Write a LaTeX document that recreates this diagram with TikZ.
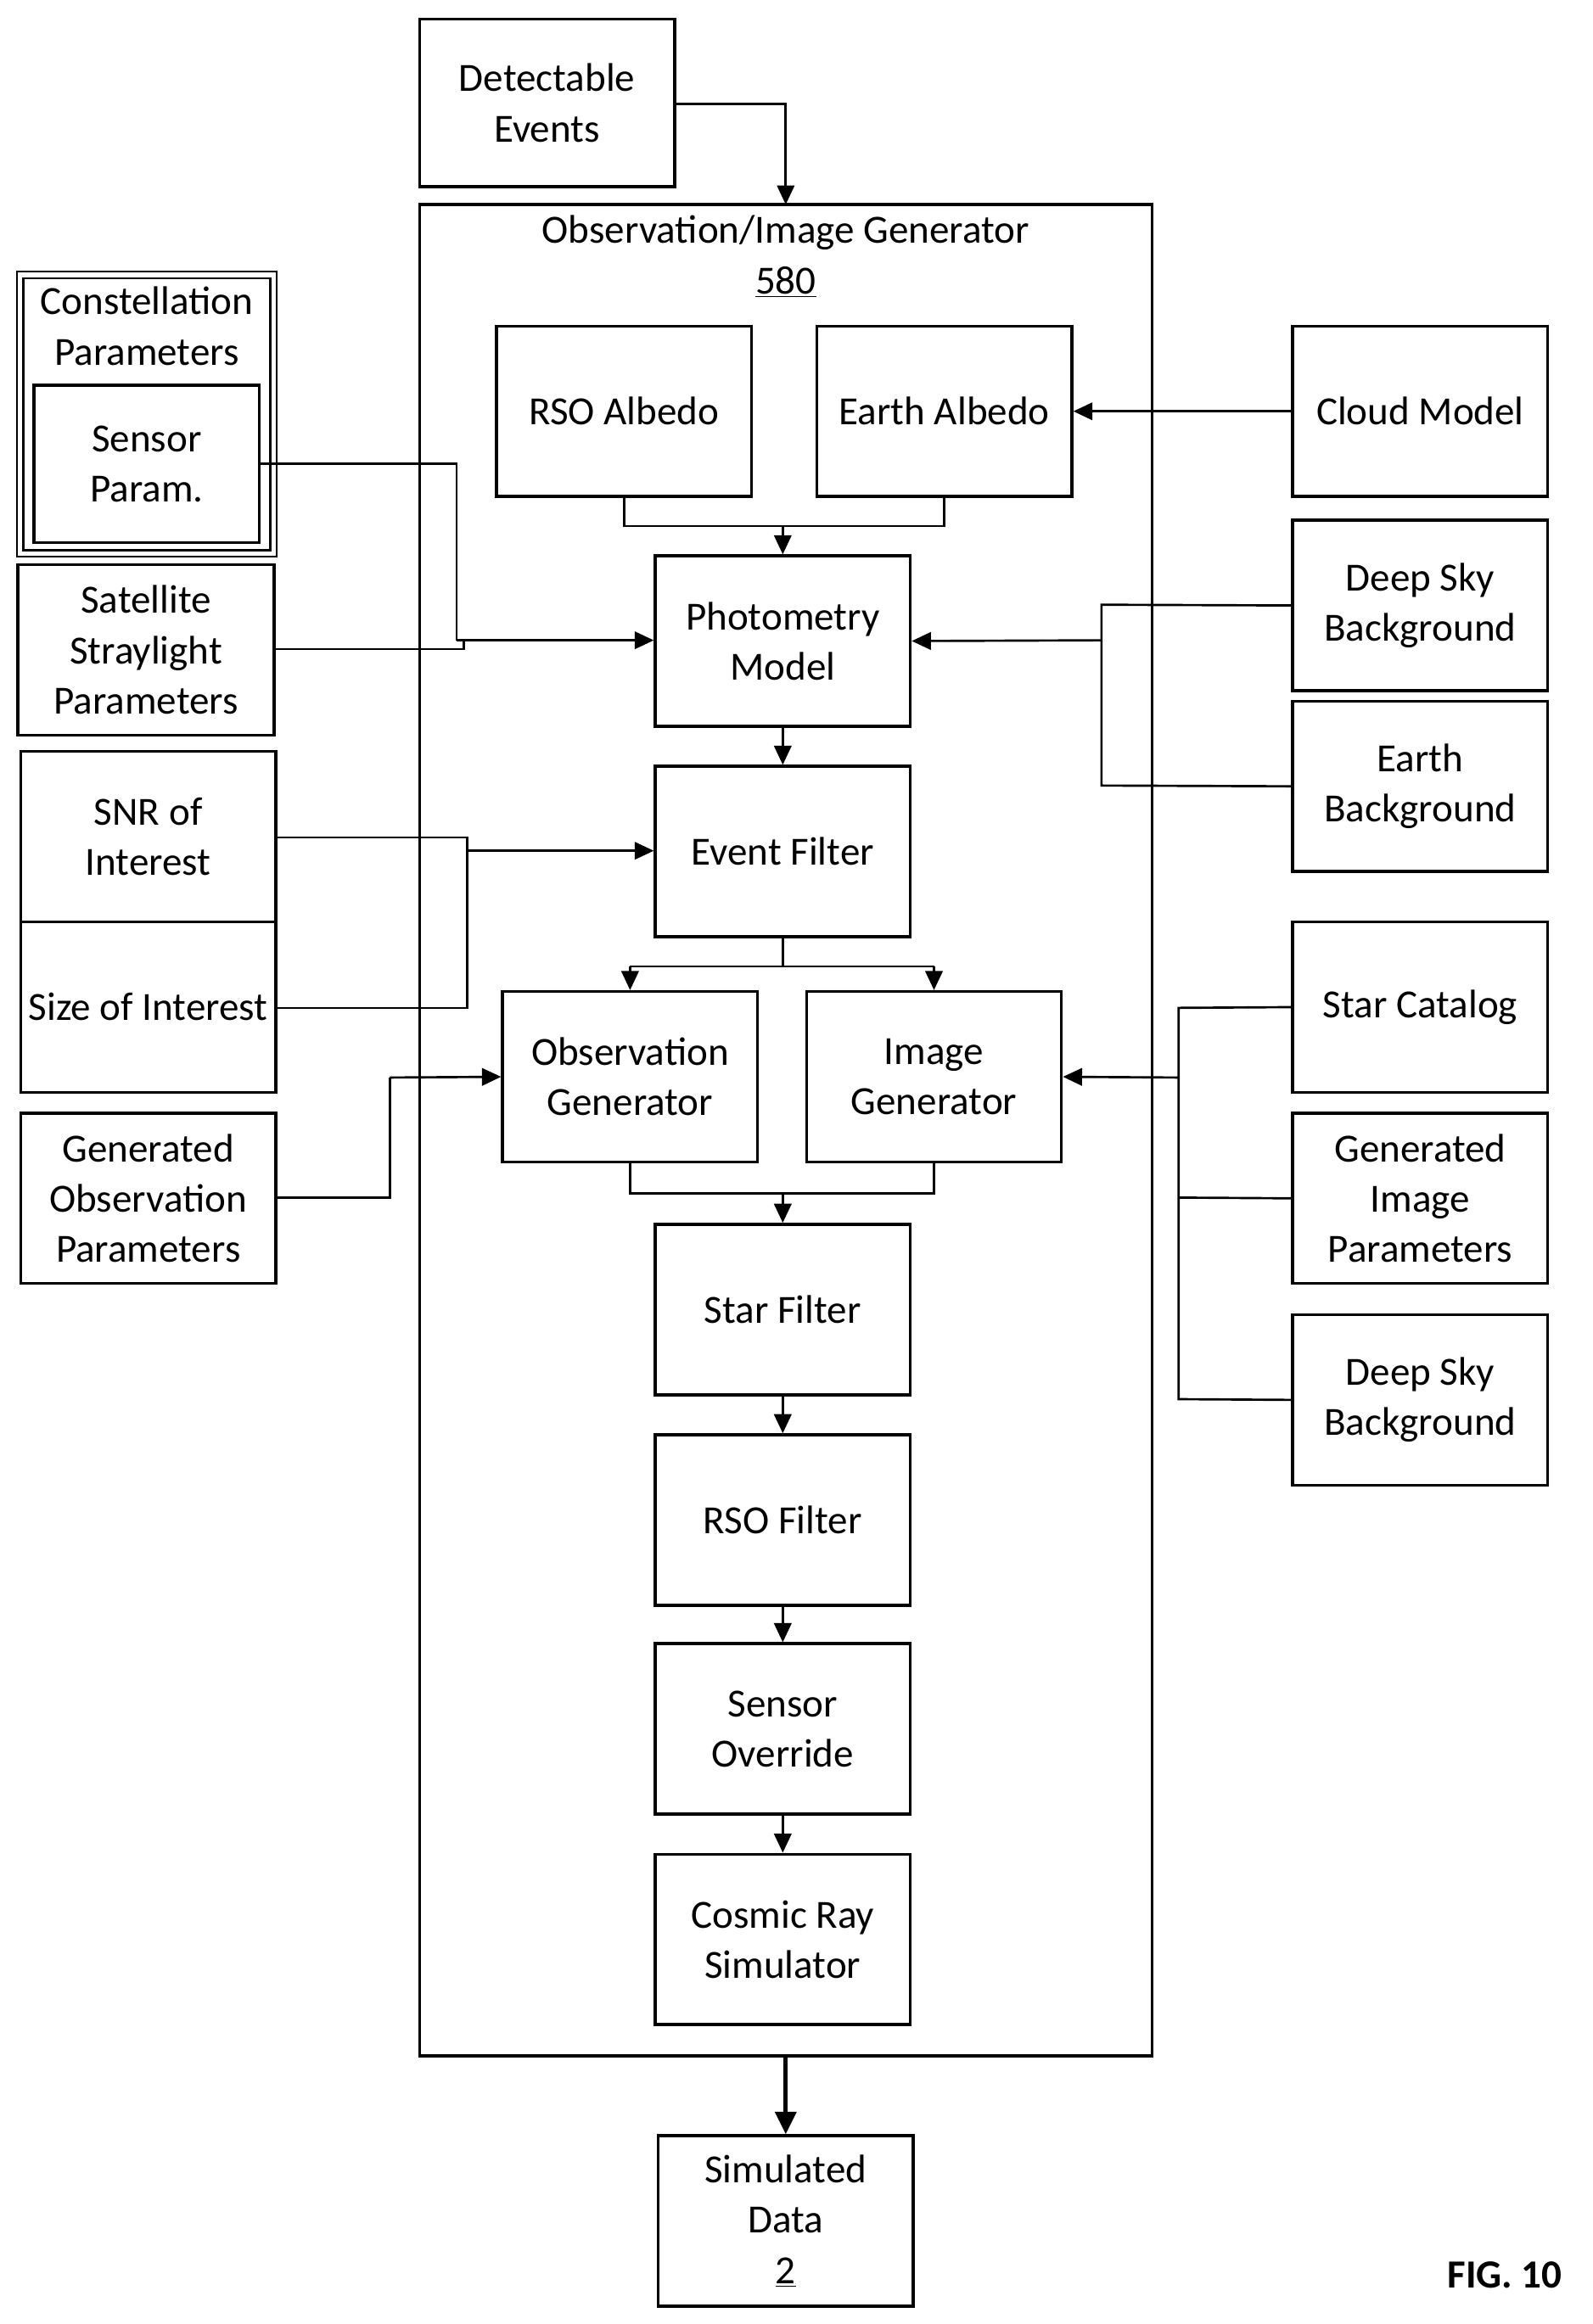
\documentclass[tikz,border=0pt]{standalone}
\usepackage{fontspec}
\setmainfont{Carlito}
\usetikzlibrary{arrows.meta,calc}
\begin{document}
\begin{tikzpicture}[x=0.03cm,y=-0.03cm,
  every node/.style={font=\fontsize{23}{29}\selectfont},
  box/.style={draw,line width=1.7pt,align=center,inner sep=0pt},
  ln/.style={line width=1.3pt},
  ar/.style={ln,-{Triangle[length=11pt,width=10pt]}}]
\useasboundingbox (0,0) rectangle (1074,1568);
\newcommand{\bx}[6]{\node[box,minimum width={(#4-#2)*0.03cm},minimum height={(#5-#3)*0.03cm}] (#1) at ({(#2+#4)/2},{(#3+#5)/2}) {#6};}
\bx{det}{283}{13}{455}{126}{Detectable\\Events}
\bx{outer}{283}{138}{777}{1387}{}
\node[align=center] (title) at (530,173) {Observation/Image Generator\\\underline{580}};
\bx{rso}{335}{220}{507}{335}{RSO Albedo}
\bx{ea}{551}{220}{723}{335}{Earth Albedo}
\bx{cloud}{872}{220}{1044}{335}{Cloud Model}
\bx{phot}{442}{375}{614}{490}{Photometry\\Model}
\bx{dsb}{872}{351}{1044}{466}{Deep Sky\\Background}
\bx{eb}{872}{473}{1044}{588}{Earth\\Background}
\bx{ef}{442}{517}{614}{632}{Event Filter}
\bx{og}{339}{669}{511}{784}{Observation\\Generator}
\bx{ig}{544}{669}{716}{784}{Image\\Generator}
\bx{sf}{442}{826}{614}{941}{Star Filter}
\bx{rf}{442}{968}{614}{1083}{RSO Filter}
\bx{so}{442}{1109}{614}{1224}{Sensor\\Override}
\bx{cr}{442}{1251}{614}{1366}{Cosmic Ray\\Simulator}
\bx{sim}{444}{1441}{616}{1556}{Simulated\\Data\\\underline{2}}
\node[draw,double,double distance=2.5pt,line width=1.2pt,minimum width={171*0.03cm},minimum height={188*0.03cm}] (con) at (99,279.5) {};
\node[align=center] (contxt) at (99,220) {Constellation\\Parameters};
\bx{sp}{23}{260}{175}{366}{Sensor\\Param.}
\bx{ssp}{12}{381}{185}{496}{Satellite\\Straylight\\Parameters}
\bx{snr}{14}{507}{186}{622}{SNR of\\Interest}
\bx{soi}{14}{622}{186}{737}{Size of Interest}
\bx{gop}{14}{751}{186}{866}{Generated\\Observation\\Parameters}
\bx{sc}{872}{622}{1044}{737}{Star Catalog}
\bx{gip}{872}{751}{1044}{866}{Generated\\Image\\Parameters}
\bx{dsb2}{872}{887}{1044}{1002}{Deep Sky\\Background}
\node[font=\fontsize{23}{29}\selectfont\bfseries] (fig) at (1015,1535) {FIG. 10};
% connectors
\draw[ar] (det.east |- 0,70) -| (530,138);
\draw[ln] (rso.south) -- (421,355) -- (637,355) -- (ea.south);
\draw[ar] (528,355) -- (phot.north);
\draw[ar] (cloud.west) -- (ea.east);
\draw[ln] (dsb.west) -- (743,408) -- (743,530) -- (eb.west);
\draw[ar] (743,432) -- (phot.east);
\draw[ln] (sp.east |- 0,313) -- (308,313) -- (308,432);
\draw[ln] (ssp.east |- 0,438) -- (313,438) -- (313,432);
\draw[ar] (308,432) -- (phot.west |- 0,432);
\draw[ar] (phot.south) -- (ef.north);
\draw[ln] (snr.east |- 0,565) -- (315,565) -- (315,680) -- (soi.east |- 0,680);
\draw[ar] (315,574) -- (ef.west |- 0,574);
\draw[ln] (ef.south) -- (528,652);
\draw[ln] (425,652) -- (630,652);
\draw[ar] (425,652) -- (og.north);
\draw[ar] (630,652) -- (ig.north);
\draw[ln] (gop.east |- 0,808) -- (263,808) -- (263,727);
\draw[ar] (263,727) -- (og.west);
\draw[ln] (sc.west) -- (795,680) -- (795,944) -- (dsb2.west);
\draw[ln] (795,808) -- (gip.west);
\draw[ar] (795,727) -- (ig.east);
\draw[ln] (og.south) -- (425,805) -- (630,805) -- (ig.south);
\draw[ar] (528,805) -- (sf.north);
\draw[ar] (sf.south) -- (rf.north);
\draw[ar] (rf.south) -- (so.north);
\draw[ar] (so.south) -- (cr.north);
\draw[line width=2.6pt,-{Triangle[length=13pt,width=12pt]}] (530,1387) -- (sim.north -| 530,0);
\end{tikzpicture}
\end{document}
